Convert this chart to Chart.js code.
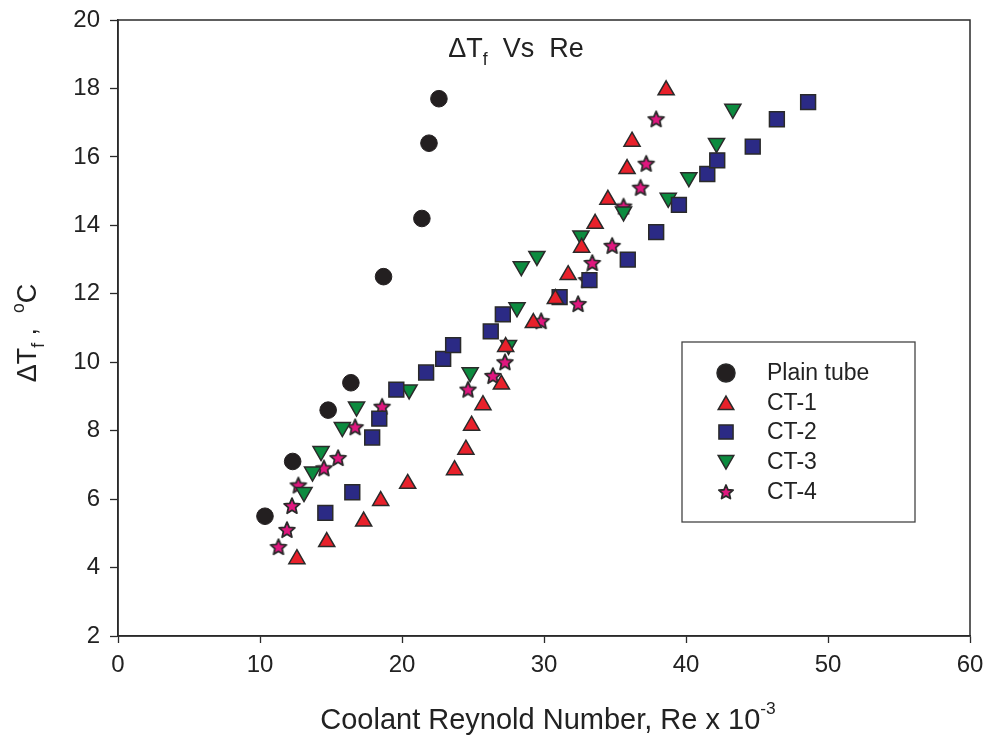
<!DOCTYPE html>
<html lang="en">
<head>
    <meta charset="UTF-8">
    <title>ΔTf Vs Re</title>
    <script src="https://cdn.jsdelivr.net/npm/chart.js"></script>
    <style>
        html, body { margin: 0; padding: 0; background: #fff; }
        #wrap { width: 988px; height: 742px; }
    </style>
</head>
<body>
    <div id="wrap"><canvas id="dt-chart" width="988" height="742"></canvas></div>

    <script>
        // values (Re x 10^-3, deltaT in C)
        const plainRe = [10.35, 12.3, 14.8, 16.4, 18.7, 21.4, 21.9, 22.6];
        const plainDT = [5.5, 7.1, 8.6, 9.4, 12.5, 14.2, 16.4, 17.7];

        const ct1Re = [12.6, 14.7, 17.3, 18.5, 20.4, 23.7, 24.5, 24.9, 25.7, 27.0, 27.3, 29.25, 30.8, 31.7, 32.65, 33.6, 34.5, 35.85, 36.2, 38.6];
        const ct1DT = [4.25, 4.75, 5.35, 5.95, 6.45, 6.85, 7.45, 8.15, 8.75, 9.35, 10.45, 11.15, 11.85, 12.55, 13.35, 14.05, 14.75, 15.65, 16.45, 17.95];

        const ct2Re = [14.6, 16.5, 17.9, 18.4, 19.6, 21.7, 22.9, 23.6, 26.25, 27.1, 31.1, 33.2, 35.9, 37.9, 39.5, 41.5, 42.2, 44.7, 46.4, 48.6];
        const ct2DT = [5.6, 6.2, 7.8, 8.35, 9.2, 9.7, 10.1, 10.5, 10.9, 11.4, 11.9, 12.4, 13.0, 13.8, 14.6, 15.5, 15.9, 16.3, 17.1, 17.6];

        const ct3Re = [13.1, 13.7, 14.3, 15.8, 16.8, 20.5, 24.8, 27.5, 28.1, 28.4, 29.5, 32.6, 35.6, 38.75, 40.2, 42.15, 43.3];
        const ct3DT = [6.2, 6.8, 7.4, 8.1, 8.7, 9.2, 9.7, 10.5, 11.6, 12.8, 13.1, 13.7, 14.4, 14.8, 15.4, 16.4, 17.4];

        const ct4Re = [11.3, 11.9, 12.25, 12.7, 14.5, 15.5, 16.7, 18.6, 24.65, 26.4, 27.25, 29.8, 32.4, 33.0, 33.4, 34.8, 35.6, 36.8, 37.2, 37.9];
        const ct4DT = [4.6, 5.1, 5.8, 6.4, 6.9, 7.2, 8.1, 8.7, 9.2, 9.6, 10.0, 11.2, 11.7, 12.4, 12.9, 13.4, 14.55, 15.1, 15.8, 17.1];

        const seriesNames = ['Plain tube', 'CT-1', 'CT-2', 'CT-3', 'CT-4'];
        const xTicks = [0, 10, 20, 30, 40, 50, 60];
        const yTicks = [2, 4, 6, 8, 10, 12, 14, 16, 18, 20];

        const edge = '#2a2a2a';
        const fontFam = '"Liberation Sans", Arial, sans-serif';

        function toPoints(xs, ys) {
            return xs.map((x, i) => ({ x: x, y: ys[i] }));
        }

        // 5-point star marker, chart.js 'star' is only a cross
        function makeStar(size, outer, inner) {
            const c = document.createElement('canvas');
            c.width = size; c.height = size;
            const g = c.getContext('2d');
            const cx = size / 2, cy = size / 2 + 0.5;
            g.beginPath();
            for (let i = 0; i < 10; i++) {
                const r = i % 2 === 0 ? outer : inner;
                const a = -Math.PI / 2 + i * Math.PI / 5;
                g.lineTo(cx + r * Math.cos(a), cy + r * Math.sin(a));
            }
            g.closePath();
            g.fillStyle = '#e0177f';
            g.fill();
            g.lineWidth = 1.8;
            g.lineJoin = 'round';
            g.strokeStyle = edge;
            g.stroke();
            return c;
        }
        const starImg = makeStar(20, 8.3, 3.8);
        const starSmall = makeStar(18, 7.5, 3.4);

        // draws text made of pieces with sub/superscripts
        function drawRich(ctx, parts, x, y, size) {
            let total = 0;
            parts.forEach(p => {
                ctx.font = (size * (p.s || 1)) + 'px ' + fontFam;
                total += ctx.measureText(p.t).width;
            });
            let cx = x - total / 2;
            ctx.textAlign = 'left';
            ctx.textBaseline = 'middle';
            parts.forEach(p => {
                ctx.font = (size * (p.s || 1)) + 'px ' + fontFam;
                ctx.fillText(p.t, cx, y + (p.dy || 0) * size);
                cx += ctx.measureText(p.t).width;
            });
        }

        // keep the plot box fixed, ignore tick label overhang
        function noPad(scale) {
            scale.paddingTop = 0;
            scale.paddingBottom = 0;
            scale.paddingLeft = 0;
            scale.paddingRight = 0;
        }

        const decorPlugin = {
            id: 'decor',
            afterDraw(chart) {
                const ctx = chart.ctx;
                const a = chart.chartArea;
                ctx.save();
                // frame
                ctx.strokeStyle = edge;
                ctx.lineWidth = 1.5;
                ctx.strokeRect(a.left, a.top, a.right - a.left, a.bottom - a.top);

                ctx.fillStyle = '#222';
                // title inside plot
                drawRich(ctx, [
                    { t: 'ΔT' }, { t: 'f', s: 0.65, dy: 0.38 }, { t: '  Vs  Re' }
                ], 516, 50, 27);

                // x axis title
                drawRich(ctx, [
                    { t: 'Coolant Reynold Number, Re x 10' }, { t: '-3', s: 0.6, dy: -0.42 }
                ], 548, 721, 29);

                // y axis title (rotated)
                ctx.save();
                ctx.translate(29, 333);
                ctx.rotate(-Math.PI / 2);
                drawRich(ctx, [
                    { t: 'ΔT' }, { t: 'f', s: 0.65, dy: 0.38 }, { t: ' ,  ' },
                    { t: 'o', s: 0.65, dy: -0.38 }, { t: 'C' }
                ], 0, 0, 27);
                ctx.restore();

                // legend box
                const lx = 682, ly = 342, lw = 233, lh = 180;
                ctx.lineWidth = 1.3;
                ctx.strokeStyle = '#444';
                ctx.strokeRect(lx, ly, lw, lh);
                const rows = [373, 403, 432, 462, 492];
                ctx.font = '23px ' + fontFam;
                ctx.textAlign = 'left';
                ctx.textBaseline = 'middle';
                chart.data.datasets.forEach((ds, i) => {
                    const mx = 726, my = rows[i];
                    if (ds.pointStyle instanceof HTMLCanvasElement) {
                        ctx.drawImage(starSmall, mx - 9, my - 9);
                    } else {
                        ctx.fillStyle = ds.backgroundColor;
                        ctx.strokeStyle = edge;
                        ctx.lineWidth = 1.5;
                        Chart.helpers.drawPoint(ctx, {
                            pointStyle: ds.pointStyle,
                            radius: ds.pointStyle === 'rect' ? 10 : 9,
                            rotation: ds.pointRotation || 0,
                            borderWidth: 1.5
                        }, mx, my + (ds.pointRotation ? -2 : (ds.pointStyle === 'triangle' ? 2 : 0)));
                    }
                    ctx.fillStyle = '#222';
                    ctx.fillText(seriesNames[i], 767, my + 1);
                });
                ctx.restore();
            }
        };

        const ctx = document.getElementById('dt-chart').getContext('2d');

        new Chart(ctx, {
            type: 'scatter',
            data: {
                datasets: [
                    {
                        label: seriesNames[0],
                        data: toPoints(plainRe, plainDT),
                        pointStyle: 'circle',
                        pointRadius: 8.3,
                        backgroundColor: '#231f20',
                        borderColor: '#231f20',
                        borderWidth: 1
                    },
                    {
                        label: seriesNames[1],
                        data: toPoints(ct1Re, ct1DT),
                        pointStyle: 'triangle',
                        pointRadius: 9.3,
                        backgroundColor: '#e8212b',
                        borderColor: edge,
                        borderWidth: 1.5
                    },
                    {
                        label: seriesNames[2],
                        data: toPoints(ct2Re, ct2DT),
                        pointStyle: 'rect',
                        pointRadius: 10.5,
                        backgroundColor: '#2b2a85',
                        borderColor: edge,
                        borderWidth: 1.5
                    },
                    {
                        label: seriesNames[3],
                        data: toPoints(ct3Re, ct3DT),
                        pointStyle: 'triangle',
                        pointRotation: 180,
                        pointRadius: 9.3,
                        backgroundColor: '#0c8b3f',
                        borderColor: edge,
                        borderWidth: 1.5
                    },
                    {
                        label: seriesNames[4],
                        data: toPoints(ct4Re, ct4DT),
                        pointStyle: starImg,
                        pointRadius: 8,
                        backgroundColor: '#e0177f',
                        borderColor: edge
                    }
                ]
            },
            options: {
                responsive: false,
                animation: false,
                layout: { padding: { left: 0, right: 18, top: 20, bottom: 0 } },
                plugins: {
                    legend: { display: false },
                    tooltip: { enabled: false }
                },
                scales: {
                    x: {
                        type: 'linear',
                        min: 0,
                        max: 60,
                        afterFit(scale) { scale.height = 106; noPad(scale); },
                        afterBuildTicks(scale) { scale.ticks = xTicks.map(v => ({ value: v })); },
                        grid: {
                            drawOnChartArea: false,
                            drawTicks: true,
                            tickLength: 7,
                            tickColor: edge,
                            tickWidth: 1.3
                        },
                        border: { display: true, color: edge, width: 1.5 },
                        ticks: {
                            padding: 8,
                            color: '#222',
                            font: { family: fontFam, size: 24 }
                        }
                    },
                    y: {
                        type: 'linear',
                        min: 2,
                        max: 20,
                        afterFit(scale) { scale.width = 118; noPad(scale); },
                        afterBuildTicks(scale) { scale.ticks = yTicks.map(v => ({ value: v })); },
                        grid: {
                            drawOnChartArea: false,
                            drawTicks: true,
                            tickLength: 8,
                            tickColor: edge,
                            tickWidth: 1.3
                        },
                        border: { display: true, color: edge, width: 1.5 },
                        ticks: {
                            padding: 10,
                            color: '#222',
                            font: { family: fontFam, size: 24 }
                        }
                    }
                }
            },
            plugins: [decorPlugin]
        });
    </script>
</body>
</html>
